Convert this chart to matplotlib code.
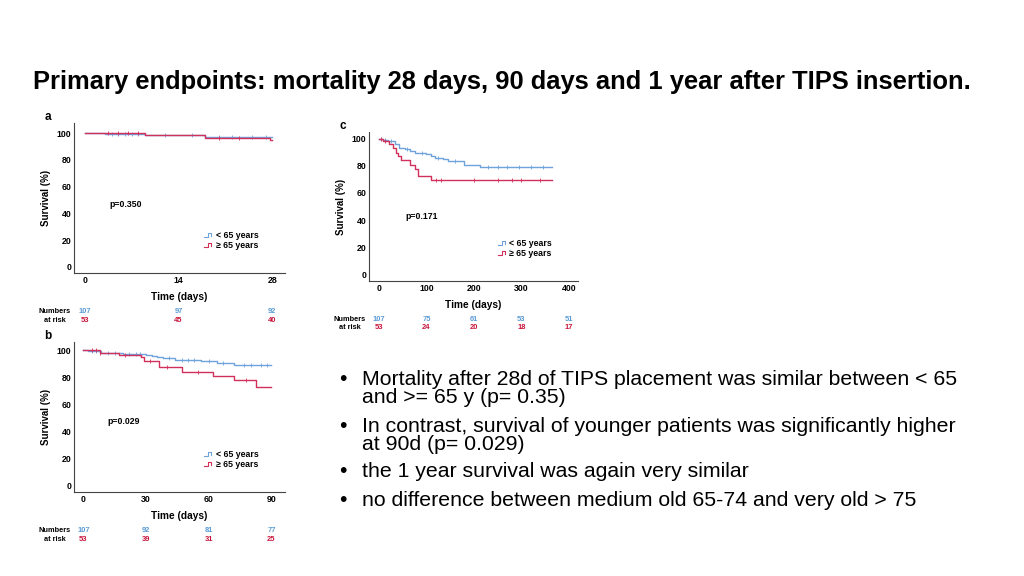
import numpy as np
import matplotlib.pyplot as plt
from matplotlib.lines import Line2D

plt.rcParams['font.family'] = ['Liberation Sans', 'DejaVu Sans']

BLUE = '#6fa3dc'
RED = '#d0305a'
TBLUE = '#5b9bd5'
TRED = '#c8143c'

# panel a: 28 days
a_blue_t = [0, 3, 9, 18, 28]
a_blue_s = [100, 99.2, 98.3, 97.4, 97.4]
a_blue_cens = [4, 5, 6, 7, 8, 12, 16, 20, 22, 25, 27]
a_red_t = [0, 9, 18, 27.6, 28]
a_red_s = [100, 98.2, 96.5, 95.0, 95.0]
a_red_cens = [3.5, 5, 6.5, 8, 20, 23]

# panel b: 90 days
b_blue_t = [0, 2.4, 8.6, 19, 30, 33, 35, 38, 44, 56.5, 64, 72, 90]
b_blue_s = [100, 99.5, 98.0, 97.3, 96.5, 95.6, 95.0, 94.0, 92.8, 92.0, 90.4, 88.9, 88.9]
b_blue_cens = [4, 6, 12, 15, 22, 25, 27, 41, 47, 50, 53, 60, 67, 77, 80, 85, 88]
b_red_t = [0, 7.8, 17, 27.5, 29, 36, 47, 62, 72, 82.4, 90]
b_red_s = [100, 98.0, 96.4, 94.6, 92.3, 87.2, 83.7, 80.5, 78.0, 72.6, 72.6]
b_red_cens = [4, 6, 8, 20, 32, 40, 55, 78]

# panel c: 1 year
c_blue_t = [0, 8, 19, 33, 43, 54, 65, 75, 100, 110, 117, 135, 145, 180, 212, 365]
c_blue_s = [100, 99, 98, 96, 93.5, 92.3, 91, 89.6, 88.5, 87.2, 86, 84.7, 83.5, 81, 79.2, 79.2]
c_blue_cens = [5, 12, 25, 60, 90, 125, 160, 230, 250, 270, 295, 320, 345]
c_red_t = [0, 8, 22, 30, 35, 40, 47, 65, 75, 82, 110, 365]
c_red_s = [100, 98, 96, 93, 89.5, 87, 84.5, 80.5, 77.7, 72.3, 69.8, 69.8]
c_red_cens = [5, 12, 120, 130, 200, 250, 280, 300, 340]

# numbers at risk
a_risk_x = [0, 14, 28]
a_risk_blue = [107, 97, 92]
a_risk_red = [53, 45, 40]
b_risk_x = [0, 30, 60, 90]
b_risk_blue = [107, 92, 81, 77]
b_risk_red = [53, 39, 31, 25]
c_risk_x = [0, 100, 200, 300, 400]
c_risk_blue = [107, 75, 61, 53, 51]
c_risk_red = [53, 24, 20, 18, 17]

bullet_lines = [
    ['Mortality after 28d of TIPS placement was similar between < 65',
     'and >= 65 y (p= 0.35)'],
    ['In contrast, survival of younger patients was significantly higher',
     'at 90d (p= 0.029)'],
    ['the 1 year survival was again very similar'],
    ['no difference between medium old 65-74 and very old > 75'],
]

W, H = 1024, 576
fig = plt.figure(figsize=(W / 100, H / 100), dpi=100)


class StepHandler:
    # small step-shaped legend icon, like the KM legend in the source figure
    def legend_artist(self, legend, orig_handle, fontsize, handlebox):
        x0, y0 = handlebox.xdescent, handlebox.ydescent
        w, h = handlebox.width, handlebox.height
        xs = [x0, x0 + 0.45 * w, x0 + 0.45 * w, x0 + 0.8 * w, x0 + 0.8 * w]
        ys = [y0 + 0.15 * h, y0 + 0.15 * h, y0 + 0.85 * h, y0 + 0.85 * h, y0 + 0.4 * h]
        ln = Line2D(xs, ys, color=orig_handle.get_color(), lw=0.8,
                    transform=handlebox.get_transform())
        handlebox.add_artist(ln)
        return ln


def px_axes(x0, y0, x1, y1):
    return fig.add_axes([x0 / W, 1 - y1 / H, (x1 - x0) / W, (y1 - y0) / H])


def step_val(t, s, x):
    i = np.searchsorted(t, x, side='right') - 1
    return np.asarray(s)[i]


def km_panel(ax, letter, curves, xlim, ylim, xticks, ptext, ppos, legpos,
             risk_x, risk_b, risk_r, risk_y):
    for t, s, cens, col in curves:
        ax.step(t, s, where='post', color=col, lw=1.0)
        ax.plot(cens, step_val(t, s, cens), ls='none', marker='|',
                ms=3, mew=0.6, color=col)
    ax.set_xlim(*xlim)
    ax.set_ylim(*ylim)
    ax.set_xticks(xticks)
    ax.set_yticks([0, 20, 40, 60, 80, 100])
    ax.spines[['top', 'right']].set_visible(False)
    ax.spines[['left', 'bottom']].set_color('#444444')
    ax.spines[['left', 'bottom']].set_linewidth(0.8)
    ax.tick_params(length=0, labelsize=6.3, pad=2)
    for lb in ax.get_xticklabels() + ax.get_yticklabels():
        lb.set_fontweight('bold')
    ax.set_ylabel('Survival (%)', fontsize=7, fontweight='bold', labelpad=4)
    ax.set_xlabel('Time (days)', fontsize=7.3, fontweight='bold', labelpad=5)
    ax.text(ppos[0], ppos[1], ptext, fontsize=6.3, fontweight='bold',
            transform=ax.transData)
    ax.text(-0.14, 1.02, letter, transform=ax.transAxes, fontsize=8.5,
            fontweight='bold')
    handles = [Line2D([], [], color=BLUE), Line2D([], [], color=RED)]
    ax.legend(handles, ['< 65 years', '\u2265 65 years'], loc='lower left',
              bbox_to_anchor=legpos, frameon=False,
              handlelength=1.0, handletextpad=0.3, labelspacing=0.1,
              handler_map={Line2D: StepHandler()},
              prop={'weight': 'bold', 'size': 6.3})
    trans = ax.get_xaxis_transform()
    for xv, nb, nr in zip(risk_x, risk_b, risk_r):
        ax.text(xv, risk_y, str(nb), color=TBLUE, fontsize=5.4,
                fontweight='bold', ha='center', transform=trans)
        ax.text(xv, risk_y - 0.055, str(nr), color=TRED, fontsize=5.4,
                fontweight='bold', ha='center', transform=trans)
    xc = -19 / (ax.get_position().width * W)
    ax.text(xc, risk_y, 'Numbers', fontsize=5.3, fontweight='bold',
            ha='center', transform=ax.transAxes)
    ax.text(xc, risk_y - 0.055, 'at risk', fontsize=5.3, fontweight='bold',
            ha='center', transform=ax.transAxes)


ax_a = px_axes(74, 123, 285, 273)
km_panel(ax_a, 'a',
         [(a_blue_t, a_blue_s, a_blue_cens, BLUE), (a_red_t, a_red_s, a_red_cens, RED)],
         (-1.6, 29.9), (-4.5, 107.5), [0, 14, 28], 'p=0.350', (3.7, 45),
         (0.58, 0.10), a_risk_x, a_risk_blue, a_risk_red, -0.27)

ax_b = px_axes(74, 342, 285, 492)
km_panel(ax_b, 'b',
         [(b_blue_t, b_blue_s, b_blue_cens, BLUE), (b_red_t, b_red_s, b_red_cens, RED)],
         (-4.5, 96.5), (-5, 106), [0, 30, 60, 90], 'p=0.029', (11.5, 45),
         (0.58, 0.10), b_risk_x, b_risk_blue, b_risk_red, -0.27)

ax_c = px_axes(369, 132, 578, 281)
km_panel(ax_c, 'c',
         [(c_blue_t, c_blue_s, c_blue_cens, BLUE), (c_red_t, c_red_s, c_red_cens, RED)],
         (-21, 419), (-5, 105), [0, 100, 200, 300, 400], 'p=0.171', (55, 41),
         (0.58, 0.10), c_risk_x, c_risk_blue, c_risk_red, -0.27)

fig.text(33 / W, 1 - 82 / H, 'Primary endpoints: mortality 28 days, 90 days and 1 year after TIPS insertion.',
         fontsize=18.4, fontweight='bold', va='center', ha='left')

bullet_base = [385, 432, 477, 506]
line_gap = 18
for yb, lines in zip(bullet_base, bullet_lines):
    fig.text(339 / W, 1 - yb / H, '\u2022', fontsize=15.3, va='baseline', ha='left')
    for k, txt in enumerate(lines):
        fig.text(362 / W, 1 - (yb + k * line_gap) / H, txt, fontsize=15.3,
                 va='baseline', ha='left')

fig.savefig('out.png', dpi=100)
